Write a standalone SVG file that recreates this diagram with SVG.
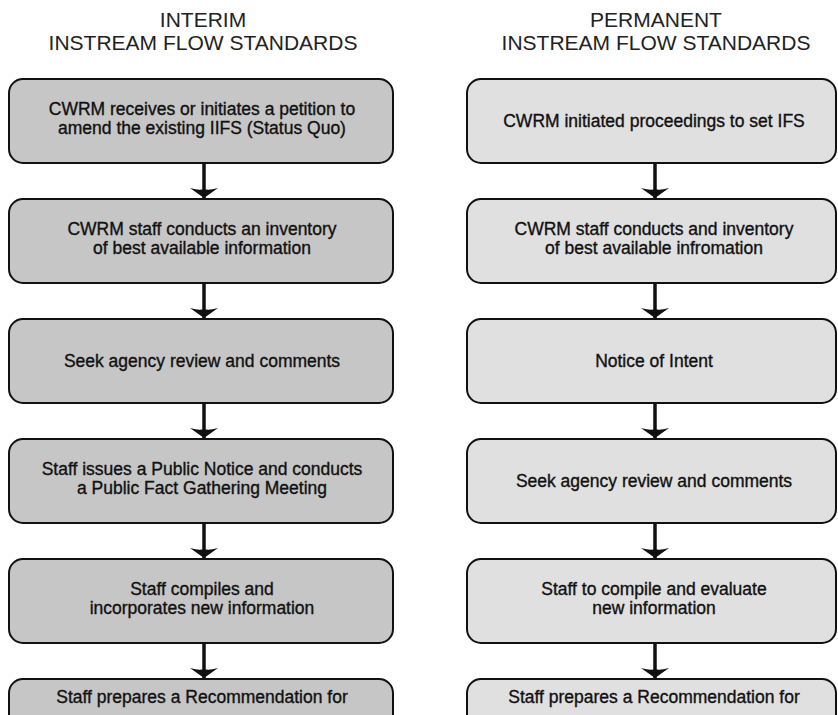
<svg xmlns="http://www.w3.org/2000/svg" width="838" height="715" viewBox="0 0 838 715">
  <style>
    .bg { fill: #ffffff; }
    .head { font-family: "Liberation Sans", Arial, sans-serif; font-size: 21px; fill: #222; text-anchor: middle; }
    .lbl { font-family: "Liberation Sans", Arial, sans-serif; font-size: 17.5px; fill: #111; stroke: #111; stroke-width: 0.35; text-anchor: middle; }
    .boxL { fill: #c6c6c6; stroke: #111; stroke-width: 2; }
    .boxR { fill: #e0e0e0; stroke: #111; stroke-width: 2; }
    .conn { stroke: #111; stroke-width: 3.5; fill: none; marker-end: url(#ah); }
  </style>
  <defs>
    <marker id="ah" markerUnits="userSpaceOnUse" markerWidth="30" markerHeight="14" viewBox="-15 -12 30 14" refX="0" refY="0" orient="auto-start-reverse" overflow="visible">
      <path d="M0,0 L-14,-10 Q-4,-7 0,-9 Q4,-7 14,-10 Z" transform="rotate(-90)" fill="#111"/>
    </marker>
  </defs>
  <rect class="bg" x="0" y="0" width="838" height="715"/>

  <g id="heading-interim">
    <text class="head" x="203" y="27">INTERIM</text>
    <text class="head" x="203" y="50">INSTREAM FLOW STANDARDS</text>
  </g>
  <g id="heading-permanent">
    <text class="head" x="656" y="27">PERMANENT</text>
    <text class="head" x="656" y="50">INSTREAM FLOW STANDARDS</text>
  </g>

  <g id="connectors">
    <line class="conn" x1="204" y1="163" x2="204" y2="198"/>
    <line class="conn" x1="204" y1="283" x2="204" y2="318"/>
    <line class="conn" x1="204" y1="403" x2="204" y2="438"/>
    <line class="conn" x1="204" y1="523" x2="204" y2="558"/>
    <line class="conn" x1="204" y1="643" x2="204" y2="678"/>
    <line class="conn" x1="655" y1="163" x2="655" y2="198"/>
    <line class="conn" x1="655" y1="283" x2="655" y2="318"/>
    <line class="conn" x1="655" y1="403" x2="655" y2="438"/>
    <line class="conn" x1="655" y1="523" x2="655" y2="558"/>
    <line class="conn" x1="655" y1="643" x2="655" y2="678"/>
  </g>

  <g id="L1">
    <rect class="boxL" x="9" y="79" width="384" height="84" rx="14"/>
    <text class="lbl" x="202" y="115">CWRM receives or initiates a petition to</text>
    <text class="lbl" x="202" y="134">amend the existing IIFS (Status Quo)</text>
  </g>
  <g id="L2">
    <rect class="boxL" x="9" y="199" width="384" height="84" rx="14"/>
    <text class="lbl" x="202" y="235">CWRM staff conducts an inventory</text>
    <text class="lbl" x="202" y="254">of best available information</text>
  </g>
  <g id="L3">
    <rect class="boxL" x="9" y="319" width="384" height="84" rx="14"/>
    <text class="lbl" x="202" y="367">Seek agency review and comments</text>
  </g>
  <g id="L4">
    <rect class="boxL" x="9" y="439" width="384" height="84" rx="14"/>
    <text class="lbl" x="202" y="475">Staff issues a Public Notice and conducts</text>
    <text class="lbl" x="202" y="494">a Public Fact Gathering Meeting</text>
  </g>
  <g id="L5">
    <rect class="boxL" x="9" y="559" width="384" height="84" rx="14"/>
    <text class="lbl" x="202" y="595">Staff compiles and</text>
    <text class="lbl" x="202" y="614">incorporates new information</text>
  </g>
  <g id="L6">
    <rect class="boxL" x="9" y="679" width="384" height="84" rx="14"/>
    <text class="lbl" x="202" y="703">Staff prepares a Recommendation for</text>
  </g>

  <g id="R1">
    <rect class="boxR" x="467" y="79" width="369" height="84" rx="14"/>
    <text class="lbl" x="654" y="127">CWRM initiated proceedings to set IFS</text>
  </g>
  <g id="R2">
    <rect class="boxR" x="467" y="199" width="369" height="84" rx="14"/>
    <text class="lbl" x="654" y="235">CWRM staff conducts and inventory</text>
    <text class="lbl" x="654" y="254">of best available infromation</text>
  </g>
  <g id="R3">
    <rect class="boxR" x="467" y="319" width="369" height="84" rx="14"/>
    <text class="lbl" x="654" y="367">Notice of Intent</text>
  </g>
  <g id="R4">
    <rect class="boxR" x="467" y="439" width="369" height="84" rx="14"/>
    <text class="lbl" x="654" y="487">Seek agency review and comments</text>
  </g>
  <g id="R5">
    <rect class="boxR" x="467" y="559" width="369" height="84" rx="14"/>
    <text class="lbl" x="654" y="595">Staff to compile and evaluate</text>
    <text class="lbl" x="654" y="614">new information</text>
  </g>
  <g id="R6">
    <rect class="boxR" x="467" y="679" width="369" height="84" rx="14"/>
    <text class="lbl" x="654" y="703">Staff prepares a Recommendation for</text>
  </g>
</svg>
